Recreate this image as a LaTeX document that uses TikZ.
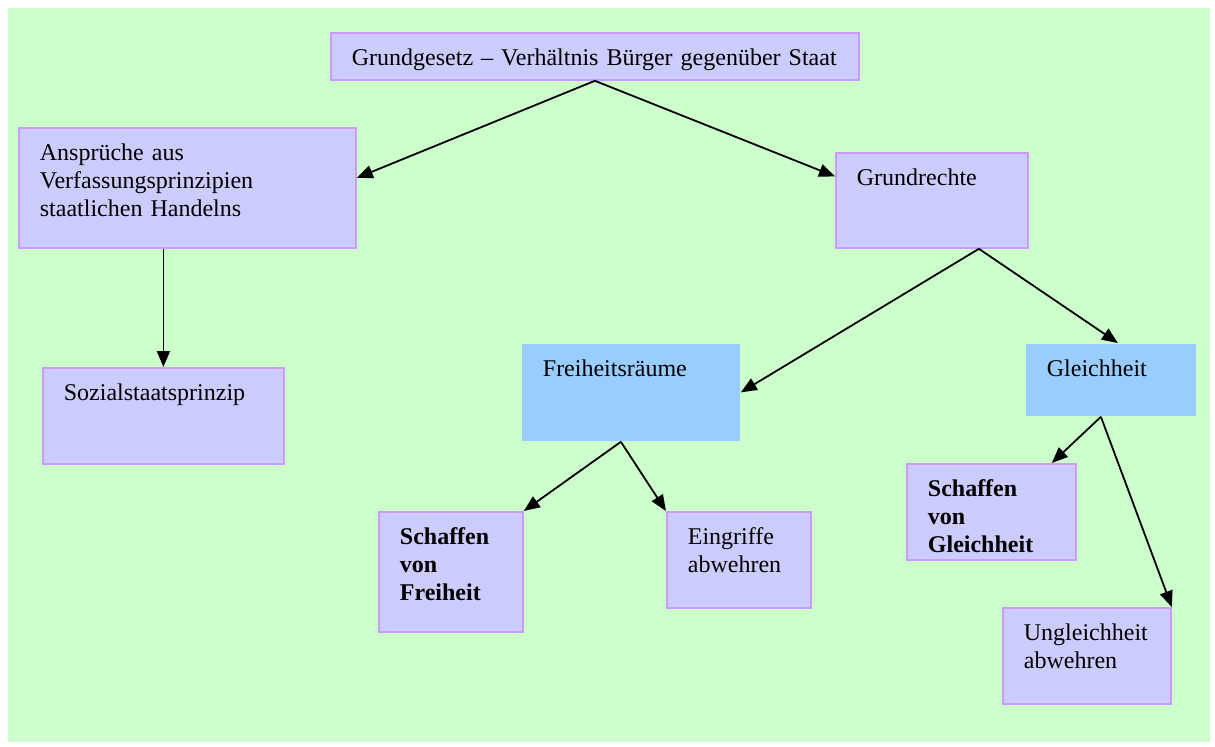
\documentclass[tikz,border=0pt]{standalone}
\usepackage{fontspec}
\setmainfont[WordSpace=0.8]{Liberation Serif}
\usepackage{tikz}
\usetikzlibrary{arrows.meta}

\definecolor{bggreen}{HTML}{CCFFCC}
\definecolor{boxfill}{HTML}{CCCCFF}
\definecolor{boxline}{HTML}{CC99FF}
\definecolor{bluefill}{HTML}{99CCFF}

\tikzset{
  box/.style={draw=boxline, line width=0.9pt, fill=boxfill, anchor=north west,
    inner xsep=10.5pt, inner ysep=0pt, align=left, text height=16.5pt,
    font=\fontsize{12}{14}\selectfont},
  bluebox/.style={box, draw=none, fill=bluefill},
  arr/.style={-{Triangle[length=8pt,width=6.5pt]}, line width=0.9pt}
}

\begin{document}
\begin{tikzpicture}[x=0.5pt, y=-0.5pt]

% Background
\useasboundingbox (0,0) rectangle (1215,746);
\fill[bggreen] (8,8) rectangle (1210,742);

% Boxes
\node[box, text width=243pt, text depth=7pt] (top) at (330,32)
  {Grundgesetz -- Verhältnis Bürger gegenüber Staat};
\node[box, text width=147.5pt, text depth=43.5pt] (ansp) at (18,127)
  {Ansprüche aus\\Verfassungsprinzipien\\staatlichen Handelns};
\node[box, text width=75pt, text depth=31pt] (grund) at (835,152) {Grundrechte};
\node[box, text width=99.5pt, text depth=31.5pt] (sozial) at (42,367) {Sozialstaatsprinzip};
\node[bluebox, text width=88pt, text depth=32pt] (frei) at (521,343) {Freiheitsräume};
\node[bluebox, text width=64pt, text depth=19.5pt] (gleich) at (1025,343) {Gleichheit};
\node[box, text width=51pt, text depth=43.5pt] (schaffenF) at (378,511)
  {\textbf{Schaffen}\\\textbf{von}\\\textbf{Freiheit}};
\node[box, text width=51pt, text depth=31.5pt] (eingriffe) at (666,511)
  {Eingriffe\\abwehren};
\node[box, text width=63.5pt, text depth=31.5pt] (schaffenG) at (906,463)
  {\textbf{Schaffen}\\\textbf{von}\\\textbf{Gleichheit}};
\node[box, text width=63pt, text depth=31.5pt] (ungleich) at (1002,607)
  {Ungleichheit\\abwehren};

% Arrows
\draw[arr] (top.south) -- ([yshift=5pt]ansp.east);
\draw[arr] (top.south) -- ([yshift=12pt]grund.west);
\draw[arr] (ansp.south -| sozial.north) -- (sozial.north);

\coordinate (grundout) at ([xshift=23.5pt]grund.south);
\draw[arr] (grundout) -- (frei.east);
\draw[arr] (grundout) -- ([xshift=3.5pt]gleich.north);

\coordinate (freiout) at ([xshift=-5pt]frei.south);
\draw[arr] (freiout) -- (schaffenF.north east);
\draw[arr] (freiout) -- (eingriffe.north west);

\coordinate (gleichout) at ([xshift=-5pt]gleich.south);
\draw[arr] (gleichout) -- ([xshift=-12.5pt]schaffenG.north east);
\draw[arr] (gleichout) -- (ungleich.north east);

\end{tikzpicture}
\end{document}
